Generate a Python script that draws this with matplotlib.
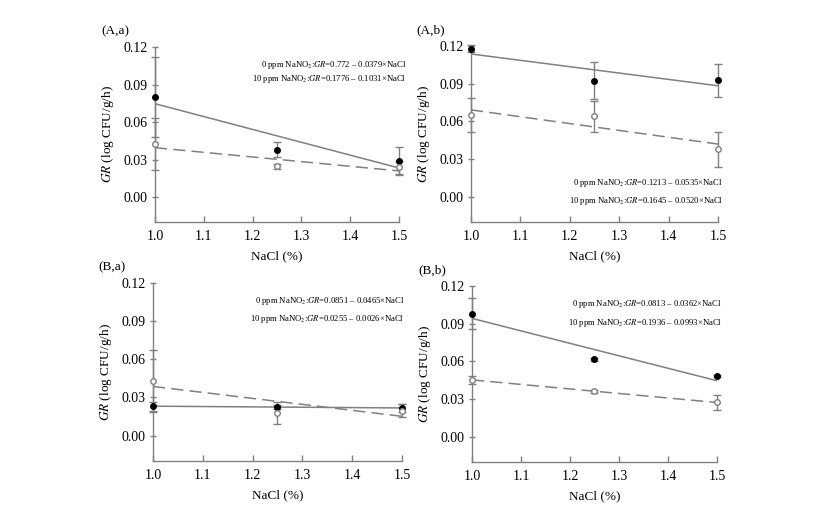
import numpy as np
import matplotlib
matplotlib.use("Agg")
import matplotlib.pyplot as plt

plt.rcParams["font.family"] = ["Liberation Serif", "DejaVu Serif"]
plt.rcParams["mathtext.fontset"] = "stix"

# NaCl levels (%)
nacl = [1.0, 1.25, 1.5]

# growth rates (filled = closed circles, open = open circles)
aa_closed = [0.0801, 0.0380, 0.0287]
aa_closed_err = [0.032, 0.0058, 0.0112]
aa_open = [0.0423, 0.0245, 0.0237]
aa_open_err = [0.021, 0.002, 0.0055]

ab_closed = [0.1180, 0.0924, 0.0927]
ab_closed_err = [0.003, 0.0147, 0.013]
ab_open = [0.0650, 0.0640, 0.0378]
ab_open_err = [0.0134, 0.0123, 0.014]

ba_closed = [0.0231, 0.0225, 0.0217]
ba_closed_err = [0.0035, 0.0015, 0.003]
ba_open = [0.0432, 0.0178, 0.0197]
ba_open_err = [0.0244, 0.0087, 0.005]

bb_closed = [0.0981, 0.0617, 0.0485]
bb_closed_err = [0.012, 0.001, 0.001]
bb_open = [0.0454, 0.0361, 0.0274]
bb_open_err = [0.003, 0.001, 0.0057]

panel_labels = ["(A,a)", "(A,b)", "(B,a)", "(B,b)"]
equations = [
    ["0 ppm NaNO$_2$:$\\it{GR}$=0.772 \u2013 0.0379\u00d7NaCl",
     "10 ppm NaNO$_2$:$\\it{GR}$=0.1776 \u2013 0.1031\u00d7NaCl"],
    ["0 ppm NaNO$_2$:$\\it{GR}$=0.1213 \u2013 0.0535\u00d7NaCl",
     "10 ppm NaNO$_2$:$\\it{GR}$=0.1645 \u2013 0.0520\u00d7NaCl"],
    ["0 ppm NaNO$_2$:$\\it{GR}$=0.0851 \u2013 0.0465\u00d7NaCl",
     "10 ppm NaNO$_2$:$\\it{GR}$=0.0255 \u2013 0.0026\u00d7NaCl"],
    ["0 ppm NaNO$_2$:$\\it{GR}$=0.0813 \u2013 0.0362\u00d7NaCl",
     "10 ppm NaNO$_2$:$\\it{GR}$=0.1936 \u2013 0.0993\u00d7NaCl"],
]

panels = [
    (aa_closed, aa_closed_err, aa_open, aa_open_err),
    (ab_closed, ab_closed_err, ab_open, ab_open_err),
    (ba_closed, ba_closed_err, ba_open, ba_open_err),
    (bb_closed, bb_closed_err, bb_open, bb_open_err),
]

boxes = [
    [0.1874, 0.5621, 0.2950, 0.3452],
    [0.5695, 0.5621, 0.2987, 0.3471],
    [0.1850, 0.0907, 0.3011, 0.3511],
    [0.5707, 0.0888, 0.2963, 0.3471],
]
# where the equations sit (axes fractions, right aligned)
eq_pos = [(1.03, 0.90, 0.82), (1.02, 0.22, 0.12), (1.01, 0.90, 0.80), (1.02, 0.90, 0.79)]

gray = "#808080"
fig = plt.figure(figsize=(8.27, 5.07), dpi=100)

for i, (closed, closed_err, opn, opn_err) in enumerate(panels):
    ax = fig.add_axes(boxes[i])
    x = np.array(nacl)
    xs = np.array([1.0, 1.5])

    # regression lines
    k, b = np.polyfit(x, closed, 1)
    ax.plot(xs, k * xs + b, color=gray, lw=1.1, zorder=2)
    k, b = np.polyfit(x, opn, 1)
    ax.plot(xs, k * xs + b, color=gray, lw=1.1, ls=(0, (8, 4)), zorder=2)

    ax.errorbar(x, closed, yerr=closed_err, fmt="o", ms=4, mfc="black", mec="black",
                ecolor=gray, elinewidth=1, capsize=2.6, capthick=1, clip_on=False, zorder=3)
    ax.errorbar(x, opn, yerr=opn_err, fmt="o", ms=4, mfc="white", mec=gray,
                ecolor=gray, elinewidth=1, capsize=2.6, capthick=1, clip_on=False, zorder=3)

    ax.set_xlim(1.0, 1.5)
    ax.set_ylim(-0.02, 0.12)
    ax.set_xticks([1.0, 1.1, 1.2, 1.3, 1.4, 1.5])
    ax.set_yticks([0.0, 0.03, 0.06, 0.09, 0.12])
    ax.set_yticklabels(["0.00", "0.03", "0.06", "0.09", "0.12"])
    ax.set_xticklabels(["1.0", "1.1", "1.2", "1.3", "1.4", "1.5"])
    ax.tick_params(axis="both", labelsize=10, color=gray, width=1)
    ax.tick_params(axis="y", direction="inout", length=5, pad=3)
    ax.tick_params(axis="x", direction="in", length=4, pad=6)
    for s in ["top", "right"]:
        ax.spines[s].set_visible(False)
    for s in ["left", "bottom"]:
        ax.spines[s].set_color(gray)
        ax.spines[s].set_linewidth(1)

    ax.set_xlabel("NaCl (%)", fontsize=9.5, labelpad=5)
    ax.set_ylabel("$\\it{GR}$ (log CFU/g/h)", fontsize=9.5, labelpad=5)
    ax.text(-0.22, 1.09, panel_labels[i], transform=ax.transAxes, fontsize=9.5,
            ha="left", va="center")

    ex, ey1, ey2 = eq_pos[i]
    ax.text(ex, ey1, equations[i][0], transform=ax.transAxes, fontsize=6.2,
            ha="right", va="center")
    ax.text(ex, ey2, equations[i][1], transform=ax.transAxes, fontsize=6.2,
            ha="right", va="center")

plt.savefig("out.png", dpi=100)
